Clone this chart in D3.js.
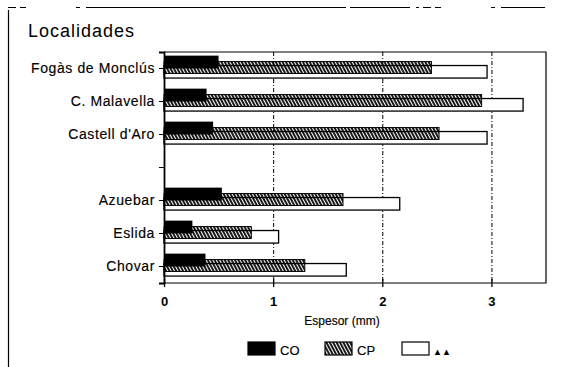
<!DOCTYPE html>
<html>
<head>
<meta charset="utf-8">
<script src="https://cdn.jsdelivr.net/npm/d3@7"></script>
<style>
  body { margin: 0; background: #fff; }
  svg { font-family: "Liberation Sans", Arial, sans-serif; }
</style>
</head>
<body>
<div id="chart"></div>
<script>
const localidades = ['Fogàs de Monclús', 'C. Malavella', "Castell d'Aro", '', 'Azuebar', 'Eslida', 'Chovar'];
const co = [0.50, 0.39, 0.45, null, 0.53, 0.26, 0.38];
const cp = [2.45, 2.91, 2.52, null, 1.64, 0.80, 1.29];
const aa = [2.96, 3.29, 2.96, null, 2.16, 1.05, 1.67];
const xTicks = [0, 1, 2, 3];
const series = ['CO', 'CP', '\u25B2\u25B2'];

var width = 567, height = 367;
var margin = {top: 52, right: 21, bottom: 84, left: 164};
var plotW = width - margin.left - margin.right;
var plotH = height - margin.top - margin.bottom;

var svg = d3.select('#chart').append('svg')
  .attr('width', width)
  .attr('height', height);

var defs = svg.append('defs');
defs.append('pattern')
    .attr('id', 'hatch')
    .attr('patternUnits', 'userSpaceOnUse')
    .attr('width', 3).attr('height', 6)
    .attr('patternTransform', 'rotate(-28)')
  .append('line')
    .attr('x1', 1).attr('x2', 1).attr('y1', 0).attr('y2', 6)
    .attr('stroke', '#000').attr('stroke-width', 1.8);

// outer frame (scan edge)
svg.append('line').attr('x1', 8.5).attr('x2', 8.5).attr('y1', 10).attr('y2', height)
  .attr('stroke', '#000').attr('stroke-width', 1.2);
svg.append('line').attr('x1', 8).attr('x2', 545).attr('y1', 7.5).attr('y2', 7.5)
  .attr('stroke', '#000').attr('stroke-width', 1)
  .attr('stroke-dasharray', '8,4,6,50,4,6,260,4,60,6,3,4');

svg.append('text')
  .attr('x', 28).attr('y', 37)
  .attr('font-size', 18)
  .attr('letter-spacing', 1.0)
  .text('Localidades');

const xScale = d3.scaleLinear()
  .domain([0, 3.5])
  .range([0, plotW]);

const yScale = d3.scaleBand()
  .domain(localidades)
  .range([0, plotH])
  .padding(0);

const g = svg.append('g')
  .attr('transform', `translate(${margin.left}, ${margin.top})`);

// dotted grid
g.selectAll('.grid')
  .data(xTicks.slice(1))
  .join('line')
    .attr('class', 'grid')
    .attr('x1', d => xScale(d) + 0.5).attr('x2', d => xScale(d) + 0.5)
    .attr('y1', 0).attr('y2', plotH)
    .attr('stroke', '#000').attr('stroke-width', 1)
    .attr('stroke-dasharray', '4,2,1,2');

const rows = localidades.map((name, i) => ({name, co: co[i], cp: cp[i], aa: aa[i]}))
  .filter(d => d.co !== null);

const bw = yScale.bandwidth();

// AA (open) bars behind
g.selectAll('.aa')
  .data(rows)
  .join('rect')
    .attr('x', xScale(0))
    .attr('y', d => yScale(d.name) + bw * 0.41)
    .attr('width', d => xScale(d.aa))
    .attr('height', bw * 0.38)
    .attr('fill', '#fff')
    .attr('stroke', '#000').attr('stroke-width', 1.3);

g.selectAll('.cp')
  .data(rows)
  .join('rect')
    .attr('x', xScale(0))
    .attr('y', d => yScale(d.name) + bw * 0.29)
    .attr('width', d => xScale(d.cp))
    .attr('height', bw * 0.36)
    .attr('fill', 'url(#hatch)')
    .attr('stroke', '#000').attr('stroke-width', 1);

g.selectAll('.co')
  .data(rows)
  .join('rect')
    .attr('x', xScale(0))
    .attr('y', d => yScale(d.name) + bw * 0.11)
    .attr('width', d => xScale(d.co))
    .attr('height', bw * 0.39)
    .attr('fill', '#000');

// frame
g.append('path')
  .attr('d', `M0,0H${plotW}V${plotH}H0`)
  .attr('fill', 'none')
  .attr('stroke', '#000').attr('stroke-width', 1.2);

const yAxis = g.append('g')
  .call(d3.axisLeft(yScale).tickSize(5).tickPadding(4));
yAxis.select('.domain').attr('stroke-width', 1.8);
yAxis.selectAll('text')
  .attr('font-size', 14)
  .attr('letter-spacing', 0.6)
  .attr('fill', '#000')
  .attr('stroke', '#000').attr('stroke-width', 0.15)
  .attr('font-family', '"Liberation Sans", Arial, sans-serif');

const xAxis = g.append('g')
  .attr('transform', `translate(0, ${plotH})`)
  .call(d3.axisBottom(xScale).tickValues(xTicks).tickFormat(d3.format('d')).tickSize(4).tickPadding(10));
xAxis.select('.domain').remove();
xAxis.selectAll('.tick line').attr('y1', -4).attr('stroke-width', 1.3);
xAxis.selectAll('text')
  .attr('font-size', 13)
  .attr('font-weight', 'bold')
  .attr('fill', '#000')
  .attr('font-family', '"Liberation Sans", Arial, sans-serif');

svg.append('text')
  .attr('x', 342).attr('y', 325)
  .attr('text-anchor', 'middle')
  .attr('font-size', 12)
  .attr('stroke', '#000').attr('stroke-width', 0.15)
  .text('Espesor (mm)');

// legend
const legendX = [248, 325, 402];
const legend = svg.append('g');
const items = legend.selectAll('g')
  .data(series)
  .join('g')
    .attr('transform', (d, i) => `translate(${legendX[i]}, 342)`);
items.append('rect')
  .attr('width', 27).attr('height', 13)
  .attr('fill', (d, i) => ['#000', 'url(#hatch)', '#fff'][i])
  .attr('stroke', '#000').attr('stroke-width', 1.2);
items.append('text')
  .attr('x', (d, i) => i === 2 ? 31 : 32).attr('y', 13)
  .attr('font-size', (d, i) => i === 2 ? 9 : 13)
  .attr('stroke', '#000').attr('stroke-width', 0.15)
  .text(d => d);
</script>
</body>
</html>
